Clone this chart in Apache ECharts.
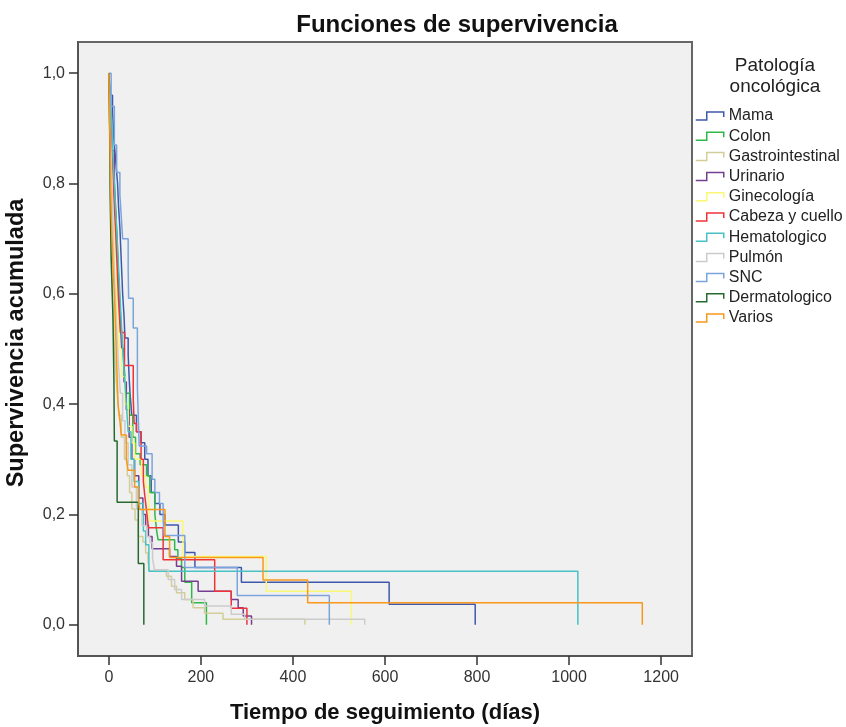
<!DOCTYPE html>
<html>
<head>
<meta charset="utf-8">
<script src="https://cdn.jsdelivr.net/npm/echarts@6/dist/echarts.min.js"></script>
<style>html,body{margin:0;padding:0;background:#fff}#c{width:846px;height:727px}</style>
</head>
<body>
<div id="c"></div>
<script>
// Categories (legend order)
const categories = ['Mama','Colon','Gastrointestinal','Urinario','Ginecología','Cabeza y cuello','Hematologico','Pulmón','SNC','Dermatologico','Varios'];
const colors = ['#3e58ac','#2eb848','#d3ce97','#753f91','#fbf873','#ef3338','#48c2c5','#cccccc','#7ba4dd','#266a2e','#f8981d'];

// Kaplan-Meier step points [día, supervivencia]
const mama = [[0,1],[3,0.96],[8,0.93],[11,0.88],[15,0.84],[19,0.80],[21,0.76],[24,0.72],[26,0.68],[28,0.64],[30,0.60],[33,0.56],[35,0.52],[42,0.49],[44,0.45],[46,0.42],[50,0.38],[60,0.35],[70,0.33],[78,0.30],[85,0.27],[92,0.24],[100,0.22],[111,0.20],[122,0.181],[151,0.15],[165,0.131],[187,0.104],[288,0.077],[609,0.037],[796,0]];
const colon = [[0,1],[2,0.95],[5,0.9],[8,0.85],[12,0.8],[15,0.75],[18,0.7],[20,0.65],[23,0.6],[26,0.55],[30,0.5],[34,0.46],[38,0.42],[45,0.38],[52,0.34],[58,0.31],[68,0.29],[82,0.27],[89,0.24],[100,0.2],[104,0.17],[107,0.154],[143,0.136],[150,0.12],[158,0.104],[165,0.077],[180,0.04],[212,0]];
const gastro = [[0,1],[1,0.93],[2,0.86],[3,0.8],[4,0.74],[5,0.69],[6,0.64],[8,0.6],[10,0.55],[12,0.5],[15,0.46],[18,0.42],[22,0.38],[27,0.34],[34,0.3],[40,0.27],[45,0.24],[50,0.21],[57,0.19],[64,0.16],[74,0.15],[80,0.13],[85,0.115],[89,0.097],[125,0.088],[136,0.07],[147,0.058],[165,0.046],[183,0.031],[208,0.021],[248,0.01],[426,0]];
const urinario = [[0,1],[3,0.93],[7,0.86],[12,0.79],[16,0.72],[20,0.64],[24,0.57],[28,0.5],[33,0.44],[38,0.39],[44,0.34],[50,0.3],[56,0.27],[65,0.23],[74,0.2],[80,0.18],[86,0.16],[94,0.138],[132,0.124],[147,0.106],[158,0.079],[194,0.061],[266,0.046],[281,0.031],[292,0.016],[310,0]];
const gineco = [[0,1],[2,0.95],[5,0.9],[8,0.85],[10,0.8],[12,0.75],[14,0.7],[16,0.65],[18,0.6],[20,0.55],[23,0.5],[28,0.45],[35,0.4],[42,0.36],[50,0.33],[56,0.3],[71,0.27],[80,0.25],[86,0.22],[89,0.188],[161,0.124],[342,0.061],[527,0]];
const cabeza = [[0,1],[3,0.94],[6,0.88],[9,0.82],[12,0.76],[15,0.71],[18,0.65],[21,0.59],[25,0.53],[34,0.47],[53,0.41],[55,0.365],[60,0.35],[70,0.3],[75,0.26],[78,0.235],[82,0.206],[86,0.176],[118,0.118],[230,0.061],[266,0.03],[300,0]];
const hemato = [[0,1],[4,0.95],[7,0.9],[9,0.85],[12,0.8],[15,0.75],[18,0.7],[21,0.65],[24,0.6],[27,0.55],[30,0.5],[34,0.45],[38,0.4],[42,0.35],[48,0.3],[55,0.26],[65,0.22],[75,0.17],[80,0.145],[87,0.097],[1019,0]];
const pulmon = [[0,1],[2,0.94],[4,0.88],[6,0.82],[8,0.76],[10,0.7],[12,0.64],[15,0.58],[18,0.52],[21,0.47],[25,0.42],[30,0.37],[35,0.33],[42,0.29],[50,0.25],[60,0.21],[72,0.18],[82,0.16],[89,0.149],[95,0.12],[99,0.1],[129,0.082],[143,0.064],[158,0.046],[208,0.034],[266,0.019],[295,0.01],[556,0]];
const snc = [[0,1],[5,0.94],[12,0.87],[17,0.82],[24,0.78],[27,0.74],[30,0.70],[42,0.646],[43,0.592],[53,0.538],[62,0.43],[66,0.324],[82,0.31],[94,0.264],[100,0.24],[110,0.22],[118,0.19],[120,0.162],[165,0.104],[279,0.053],[479,0]];
const dermato = [[0,1],[2,0.889],[3,0.778],[5,0.667],[9,0.556],[11,0.444],[12,0.333],[18,0.222],[64,0.111],[76,0]];
const varios = [[0,1],[1,0.95],[2,0.9],[3,0.85],[4,0.8],[5,0.75],[7,0.7],[9,0.65],[12,0.6],[14,0.55],[16,0.5],[18,0.45],[20,0.4],[24,0.37],[27,0.344],[38,0.3],[42,0.28],[56,0.25],[64,0.23],[67,0.209],[122,0.16],[132,0.122],[335,0.081],[432,0.04],[1159,0]];
const seriesData = [mama, colon, gastro, urinario, gineco, cabeza, hemato, pulmon, snc, dermato, varios];

// Tick labels
const xTicks = [0,200,400,600,800,1000,1200];
const yTicks = [0,0.2,0.4,0.6,0.8,1.0];

const chart = echarts.init(document.getElementById('c'), null, {renderer:'canvas'});
const font = 'Liberation Sans, Arial, sans-serif';
chart.setOption({
  animation: false,
  backgroundColor: '#ffffff',
  textStyle: {fontFamily: font},
  title: [
    {text: 'Funciones de supervivencia', left: 452, top: 8, textAlign: 'center',
     textStyle: {fontFamily: font, fontSize: 24, fontWeight: 'bold', color: '#111'}},
    {text: 'Patología\noncológica', left: 770, top: 50, textAlign: 'center',
     textStyle: {fontFamily: font, fontSize: 19, fontWeight: 'normal', color: '#222', lineHeight: 21}}
  ],
  legend: {
    orient: 'vertical', left: 695, top: 108, padding: 0,
    itemWidth: 28, itemHeight: 8, itemGap: 4.2,
    icon: 'path://M0,8 L11,8 L11,0 L28,0 L28,5',
    textStyle: {fontFamily: font, fontSize: 16, color: '#222'},
    data: categories.map((n, i) => ({
      name: n,
      itemStyle: {color: 'rgba(0,0,0,0)', borderColor: colors[i], borderWidth: 1.5}
    }))
  },
  grid: {left: 78, right: 154, top: 42, bottom: 71, show: true, containLabel: false,
         outerBoundsMode: 'none',
         backgroundColor: '#f0f0f0', borderColor: '#666', borderWidth: 2},
  xAxis: {
    type: 'value', min: -67, max: 1267,
    name: 'Tiempo de seguimiento (días)', nameLocation: 'middle', nameGap: 46,
    nameTextStyle: {fontFamily: font, fontSize: 22, fontWeight: 'bold', color: '#111'},
    axisLine: {show: true, onZero: false, lineStyle: {color: '#555', width: 2}},
    axisTick: {show: true, inside: false, length: 9, customValues: xTicks, lineStyle: {color: '#333', width: 1.5}},
    axisLabel: {customValues: xTicks, margin: 14, fontFamily: font, fontSize: 16, color: '#333',
      formatter: v => String(Math.round(v))},
    splitLine: {show: false}
  },
  yAxis: {
    type: 'value', min: -0.0566, max: 1.0566,
    name: 'Supervivencia acumulada', nameLocation: 'middle', nameGap: 49, nameRotate: 90,
    nameTextStyle: {fontFamily: font, fontSize: 23.5, fontWeight: 'bold', color: '#111', padding: [0, 0, 0, 12]},
    axisLine: {show: true, onZero: false, lineStyle: {color: '#555', width: 2}},
    axisTick: {show: true, inside: false, length: 9, customValues: yTicks, lineStyle: {color: '#333', width: 1.5}},
    axisLabel: {customValues: yTicks, margin: 13, fontFamily: font, fontSize: 16, color: '#333',
      formatter: v => v.toFixed(1).replace('.', ',')},
    splitLine: {show: false}
  },
  series: categories.map((name, i) => ({
    name: name, type: 'line', step: 'end', data: seriesData[i],
    showSymbol: false, symbol: 'none',
    itemStyle: {color: colors[i]},
    lineStyle: {color: colors[i], width: 1.5},
    emphasis: {disabled: true}
  }))
});
</script>
</body>
</html>
